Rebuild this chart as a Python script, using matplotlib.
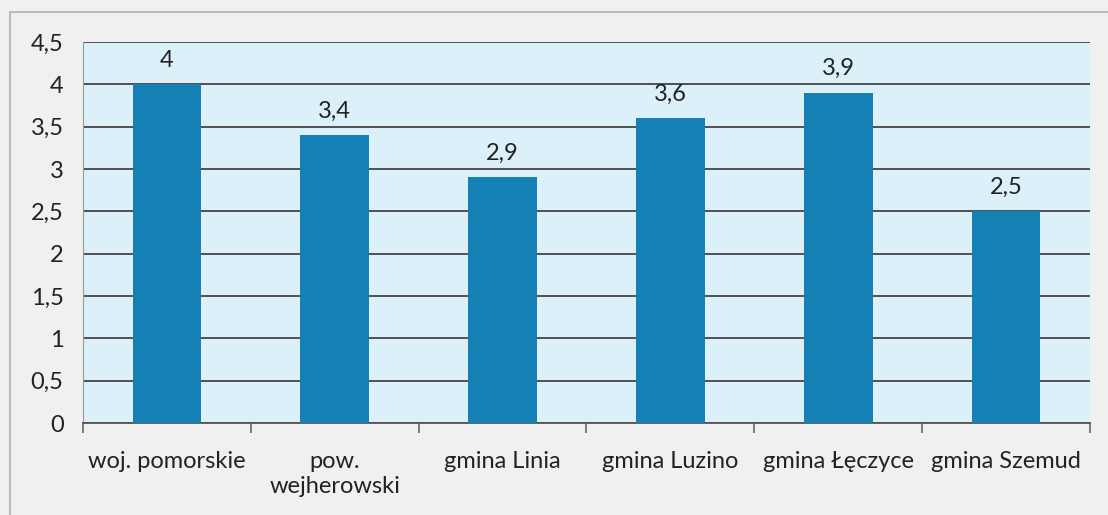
import numpy as np
import matplotlib
matplotlib.use("Agg")
import matplotlib.pyplot as plt
from matplotlib.patches import Rectangle

categories = ["woj. pomorskie", "pow.\nwejherowski", "gmina Linia",
              "gmina Luzino", "gmina Łęczyce", "gmina Szemud"]
values = [4.0, 3.4, 2.9, 3.6, 3.9, 2.5]
yticks = [0, 0.5, 1, 1.5, 2, 2.5, 3, 3.5, 4, 4.5]


def fmt(v):
    return ("%g" % v).replace(".", ",")


plt.rcParams['font.family'] = ['Lato', 'DejaVu Sans']

fig = plt.figure(figsize=(11.08, 5.15), dpi=100)
fig.patch.set_facecolor("#f0f0f0")
# outer chart border
fig.add_artist(Rectangle((10 / 1108, -0.01), 1.0, 1 - 12 / 515 + 0.01,
                         transform=fig.transFigure, fill=False,
                         edgecolor="#b0b0b0", linewidth=1.2))

ax = fig.add_axes([83 / 1108, 1 - 423 / 515, (1090 - 83) / 1108, (423 - 42) / 515])
ax.set_facecolor("#dcf0fa")

x = np.arange(len(categories))
bars = ax.bar(x, values, width=0.41, color="#1580b3", zorder=3)
for xi, v in zip(x, values):
    ax.text(xi, v + 0.16, fmt(v), ha="center", va="bottom", fontsize=17, color="#222222")

ax.set_ylim(0, 4.5)
ax.set_xlim(-0.5, len(categories) - 0.5)
ax.set_yticks(yticks)
ax.set_yticklabels([fmt(t) for t in yticks], fontsize=17, color="#222222")
ax.yaxis.grid(True, color="#444444", linewidth=1.3, zorder=0)
ax.set_axisbelow(True)

ax.set_xticks(x)
ax.set_xticklabels(categories, fontsize=17, color="#222222", linespacing=1.25)
ax.tick_params(axis="x", length=0, pad=20)
ax.tick_params(axis="y", length=0, pad=14)
# category boundary ticks
ax.set_xticks(np.arange(-0.5, len(categories)), minor=True)
ax.tick_params(axis="x", which="minor", length=7, color="#666666", width=1.2)

for s in ["top", "right"]:
    ax.spines[s].set_visible(False)
ax.spines["left"].set_color("#999999")
ax.spines["bottom"].set_color("#555555")
ax.spines["bottom"].set_linewidth(1.3)

fig.savefig("out.png", dpi=100, facecolor=fig.get_facecolor())
